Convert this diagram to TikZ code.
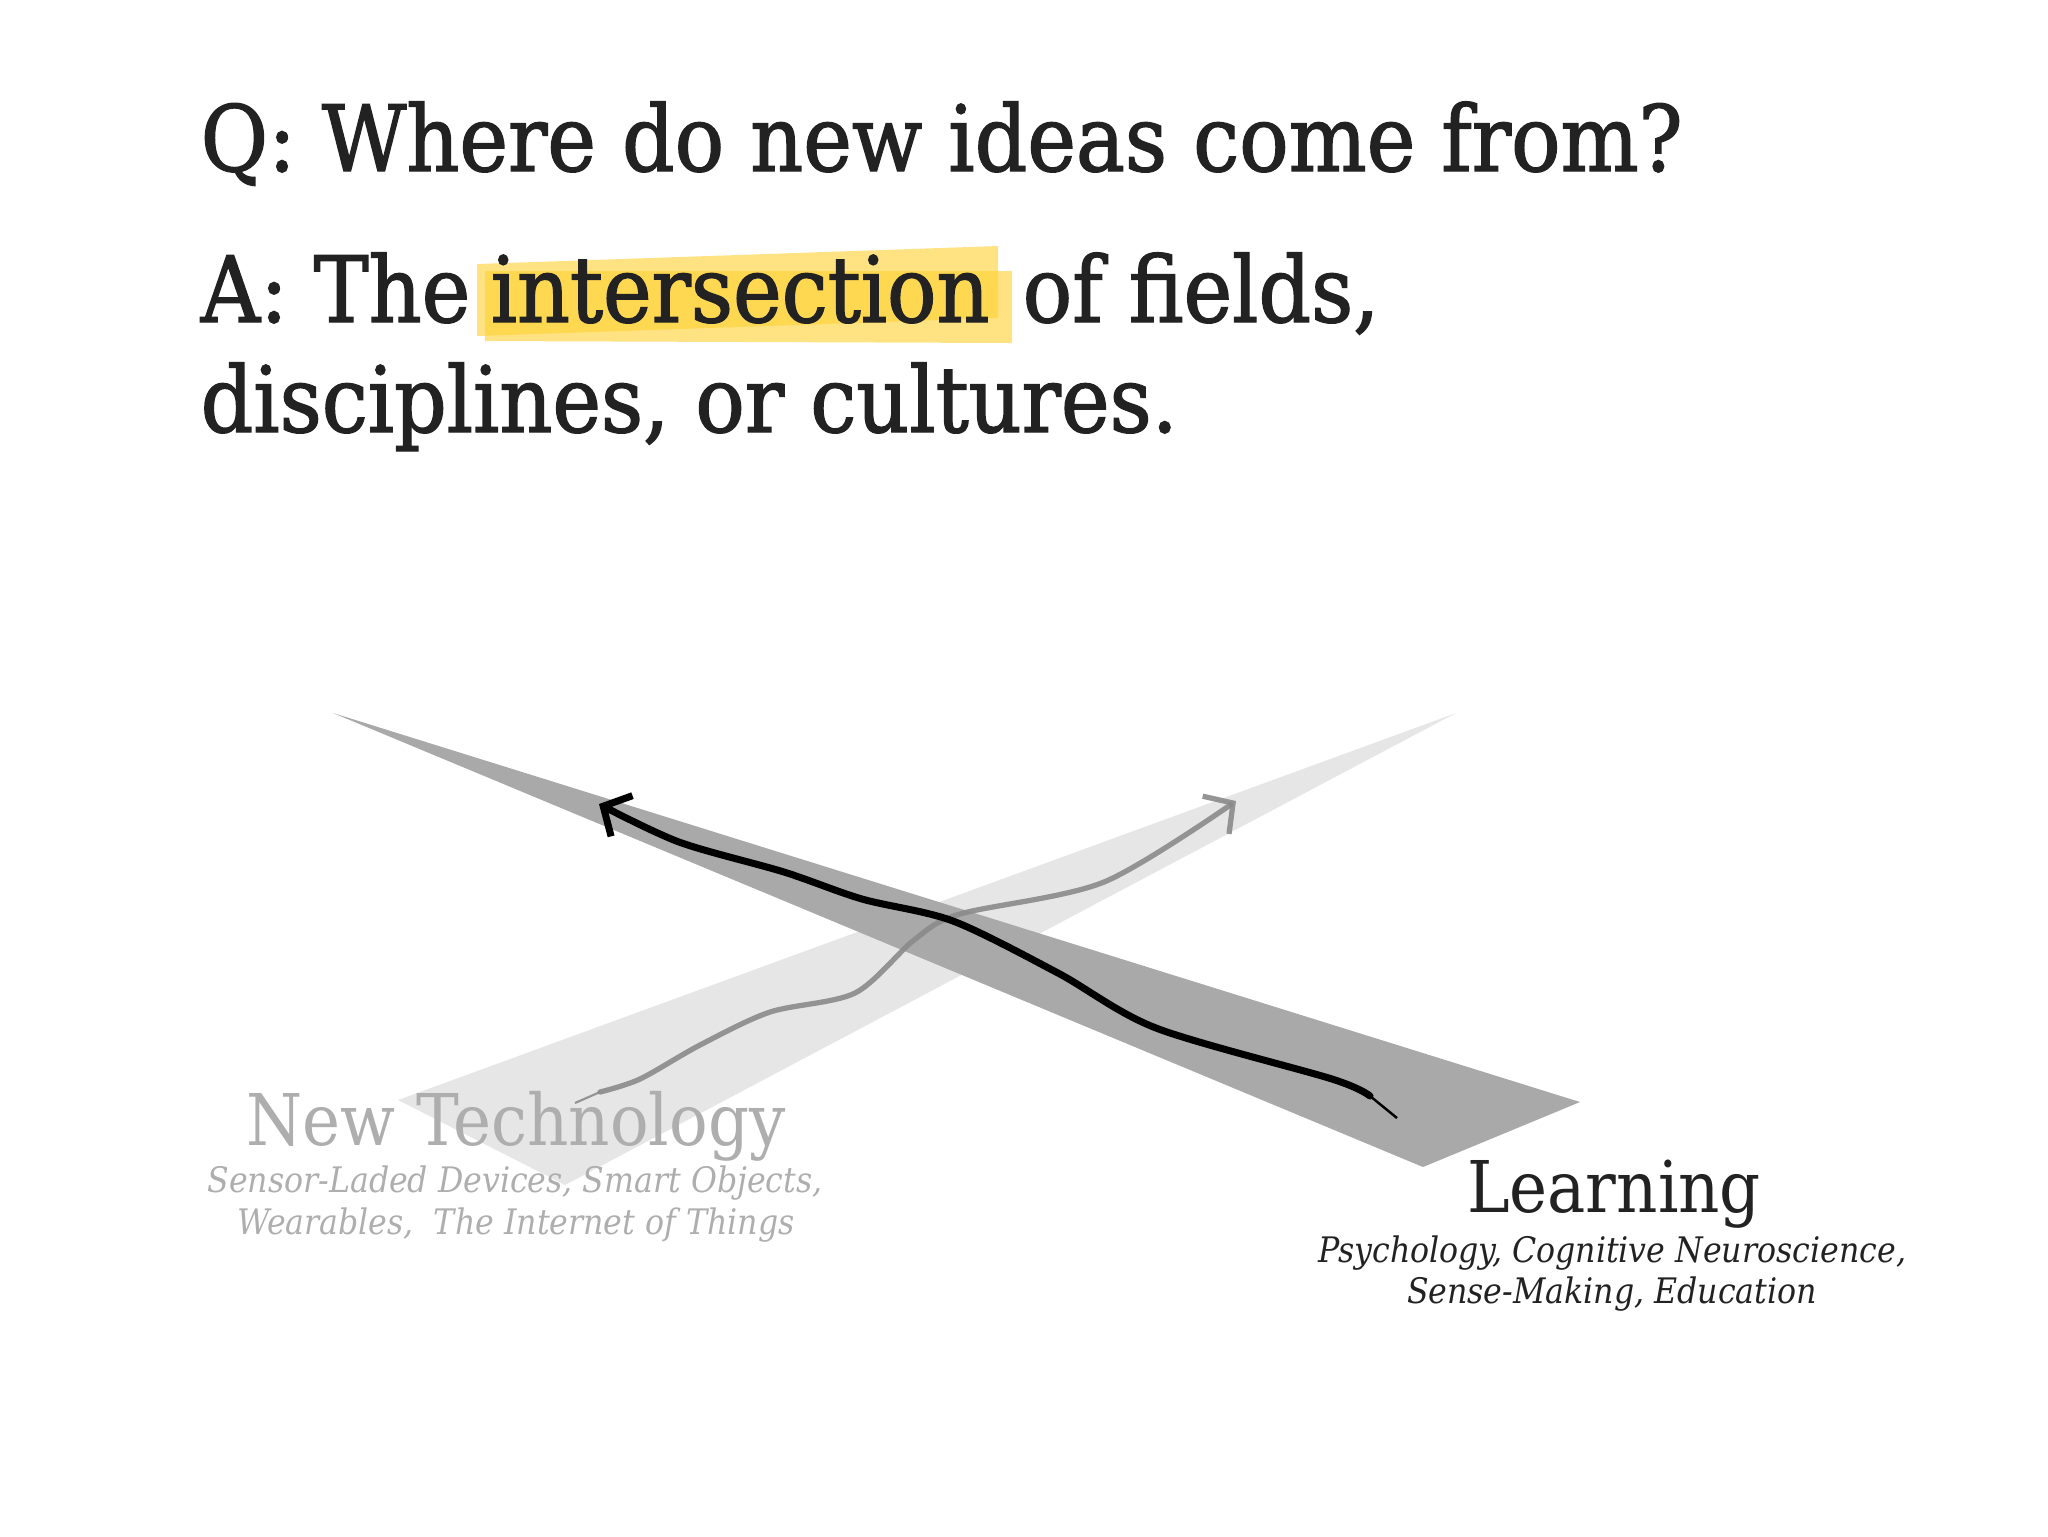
\documentclass[tikz,border=0pt]{standalone}
\usepackage{fontspec}
\setmainfont{DejaVu Serif Condensed}
\newfontfamily\headfont[FakeBold=1.5]{DejaVu Serif Condensed}
\usetikzlibrary{arrows.meta,backgrounds}

\definecolor{ink}{HTML}{222222}
\definecolor{techgray}{HTML}{AEAEAE}
\definecolor{darkwedge}{HTML}{A9A9A9}
\definecolor{lightwedge}{HTML}{E6E6E6}
\definecolor{marker}{HTML}{FFD030}
\definecolor{trailgray}{HTML}{8A8A8A}

\begin{document}
\begin{tikzpicture}[x=0.1mm, y=-0.1mm,
    headline/.style ={anchor=base west, inner sep=0pt, text=ink, font=\headfont\fontsize{26}{30}\selectfont},
    fieldname/.style ={anchor=base, inner sep=0pt, font=\fontsize{20.3}{24}\selectfont},
    fieldnote/.style ={anchor=base, inner sep=0pt, font=\fontsize{10}{12}\selectfont\itshape},
    trail/.style ={line width=2pt, line cap=round, line join=round, -{Straight Barb[length=2.1mm, width=4.6mm]}}]
   \useasboundingbox (0,0) rectangle (2048,1536);

   \node[headline] (Q)  at (200,171)  {Q: Where do new ideas come from?};
   \node[headline] (A1) at (200,322)  {A: The};
   \node[headline] (A2) at (490,322)  {intersection};
   \node[headline] (A3) at (1022,322) {of fields,};
   \node[headline] (A4) at (200,432)  {disciplines, or cultures.};

   \begin{pgfonlayer}{background}
   \fill[marker, opacity=0.6] (477,264) -- (998,246) -- (998,318) -- (477,336) -- cycle;
   \fill[marker, opacity=0.6] (485,271) -- (1012,271) -- (1012,343) -- (485,341) -- cycle;
   \end{pgfonlayer}

   % the two fields
   \fill[lightwedge] (1456,713) -- (398,1100) -- (565,1185) -- cycle;
   \fill[darkwedge]  (333,713) -- (1580,1102) -- (1423,1167) -- cycle;

   \draw[trailgray, opacity=0.9, line width=0.6pt] (575,1103) -- (600,1092);
   \draw[trail, trailgray, opacity=0.9, line width=1.5pt] plot[smooth, tension=0.5] coordinates
      {(600,1092) (640,1079) (700,1045) (770,1012) (855,993) (914,940) (960,914) (1104,882) (1236,801)};

   \draw[black, line width=0.7pt] (1397,1118) -- (1370,1096);
   \draw[trail, black] plot[smooth, tension=0.5] coordinates
      {(1370,1096) (1332,1079) (1156,1028) (1058,973) (953,921) (862,899) (784,872) (679,842) (599,804)};

   \node[fieldname, text=techgray] (T)  at (516,1145) {New Technology};
   \node[fieldnote, text=techgray] (T1) at (515,1192) {Sensor-Laded Devices, Smart Objects,};
   \node[fieldnote, text=techgray] (T2) at (516,1234) {Wearables,\ \ The Internet of Things};

   \node[fieldname, text=ink] (L)  at (1614,1212) {Learning};
   \node[fieldnote, text=ink] (L1) at (1612,1262) {Psychology, Cognitive Neuroscience,};
   \node[fieldnote, text=ink] (L2) at (1612,1303) {Sense-Making, Education};
\end{tikzpicture}
\end{document}
